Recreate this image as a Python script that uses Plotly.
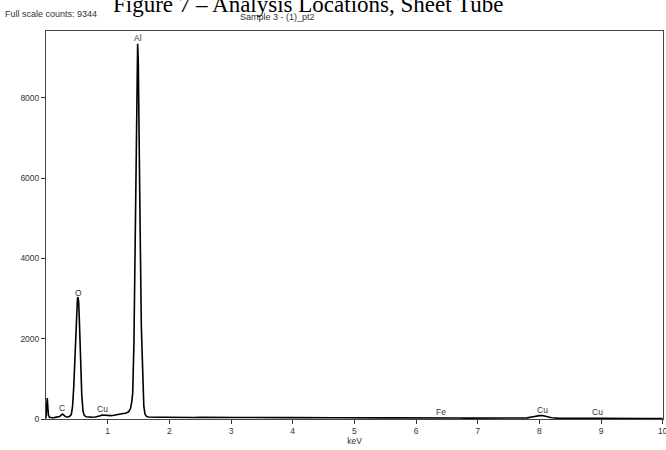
import plotly.graph_objects as go

# --- data ---
energy_kev = [0.00, 0.01, 0.02, 0.03, 0.04, 0.06, 0.08, 0.10, 0.13, 0.16, 0.19, 0.22, 0.24, 0.26, 0.27,
              0.28, 0.30, 0.32, 0.35, 0.38, 0.41, 0.43, 0.45, 0.47, 0.49, 0.50, 0.51, 0.52, 0.53, 0.54,
              0.56, 0.58, 0.60, 0.62, 0.65, 0.70, 0.75, 0.80, 0.85, 0.88, 0.91, 0.94, 0.97, 1.00, 1.05,
              1.10, 1.15, 1.20, 1.25, 1.30, 1.34, 1.37, 1.39, 1.406, 1.426, 1.446, 1.466, 1.476, 1.486,
              1.496, 1.506, 1.526, 1.546, 1.566, 1.586, 1.606, 1.63, 1.66, 1.70,
              1.8, 1.9, 2.0, 2.1, 2.2, 2.3, 2.4, 2.5, 2.6, 2.7, 2.8, 2.9, 3.0, 3.1, 3.2, 3.3, 3.4, 3.5,
              3.6, 3.7, 3.8, 3.9, 4.0, 4.1, 4.2, 4.3, 4.4, 4.5, 4.6, 4.7, 4.8, 4.9, 5.0, 5.1, 5.2, 5.3,
              5.4, 5.5, 5.6, 5.7, 5.8, 5.9, 6.0, 6.1, 6.2, 6.3, 6.4, 6.5, 6.6, 6.7, 6.8, 6.9, 7.0, 7.1,
              7.2, 7.3, 7.4, 7.5, 7.6, 7.7, 7.8, 7.9, 7.95, 8.0, 8.05, 8.1, 8.2, 8.3, 8.4, 8.5, 8.6, 8.7,
              8.8, 8.9, 9.0, 9.1, 9.2, 9.3, 9.4, 9.5, 9.6, 9.7, 9.8, 9.9, 10.0]
counts = [20, 250, 520, 300, 90, 40, 30, 30, 35, 40, 45, 60, 90, 125, 125,
          110, 75, 55, 50, 60, 110, 300, 800, 1700, 2500, 2850, 3000, 3037, 2900, 2500,
          1500, 600, 200, 90, 55, 45, 45, 50, 60, 80, 100, 95, 80, 80, 85,
          95, 105, 115, 130, 150, 180, 260, 420, 650, 1900, 4500, 7700, 8900, 9344,
          8950, 7900, 4800, 2300, 900, 320, 120, 65, 50, 45,
          42, 44, 40, 42, 38, 41, 39, 40, 37, 40, 38, 36, 39, 37, 38, 35, 37, 36,
          38, 34, 36, 35, 33, 35, 34, 32, 34, 31, 33, 32, 30, 32, 30, 31, 29, 30,
          28, 29, 27, 28, 26, 27, 26, 25, 26, 28, 38, 27, 24, 25, 23, 24, 22, 23,
          20, 18, 21, 23, 20, 22, 28, 55, 75, 85, 85, 65, 30, 22, 20, 18, 20, 17,
          20, 28, 22, 15, 16, 14, 15, 12, 13, 11, 12, 10, 10]

peak_labels = ["Al", "O", "C", "Cu", "Fe", "Cu", "Cu"]
peak_x = [1.486, 0.519, 0.265, 0.91, 6.41, 8.05, 8.94]
peak_y = [9480, 3130, 270, 250, 170, 220, 170]

x_ticks = [1, 2, 3, 4, 5, 6, 7, 8, 9, 10]
y_ticks = [0, 2000, 4000, 6000, 8000]

title_text = "Figure 7 \u2013 Analysis Locations, Sheet Tube"
full_scale_text = "Full scale counts: 9344"
sample_text = "Sample 3 - (1)_pt2"

fig = go.Figure()
fig.add_trace(go.Scatter(x=energy_kev, y=counts, mode="lines",
                         line=dict(color="black", width=1.6), hoverinfo="skip",
                         showlegend=False))

small = dict(family="Liberation Sans, Arial, sans-serif", size=8.5, color="#333333")
header = dict(family="Liberation Sans, Arial, sans-serif", size=9, color="#333333")

for lab, xv, yv in zip(peak_labels, peak_x, peak_y):
    fig.add_annotation(x=xv, y=yv, text=lab, showarrow=False, font=small,
                       xanchor="center", yanchor="middle")

fig.add_annotation(xref="paper", yref="paper", x=0.4246, y=1, yshift=12, text=title_text,
                   showarrow=False, xanchor="center", yanchor="bottom",
                   font=dict(family="Liberation Serif, Times New Roman, serif", size=23,
                             color="black"))
fig.add_annotation(xref="paper", yref="paper", x=-0.0697, y=1, yshift=17, text=full_scale_text,
                   showarrow=False, xanchor="left", yanchor="middle", font=header)
fig.add_annotation(xref="paper", yref="paper", x=0.376, y=1, yshift=14, text=sample_text,
                   showarrow=False, xanchor="center", yanchor="middle", font=header)

fig.update_layout(
    width=666, height=450,
    margin=dict(l=46, r=3, t=31, b=31),
    paper_bgcolor="white", plot_bgcolor="white",
    xaxis=dict(range=[0, 10.005], tickvals=x_ticks, ticks="outside", ticklen=4,
               tickcolor="#333", showline=True, linecolor="#444", linewidth=1,
               mirror=True, showgrid=False, zeroline=False, tickfont=small,
               ticklabeloverflow="allow", automargin=False,
               title=dict(text="keV", font=small, standoff=2)),
    yaxis=dict(range=[0, 9660], tickvals=y_ticks, ticks="outside", ticklen=4,
               tickcolor="#333", showline=True, linecolor="#444", linewidth=1,
               mirror=True, showgrid=False, zeroline=False, tickfont=small,
               automargin=False),
)

fig.write_html("out.html")
